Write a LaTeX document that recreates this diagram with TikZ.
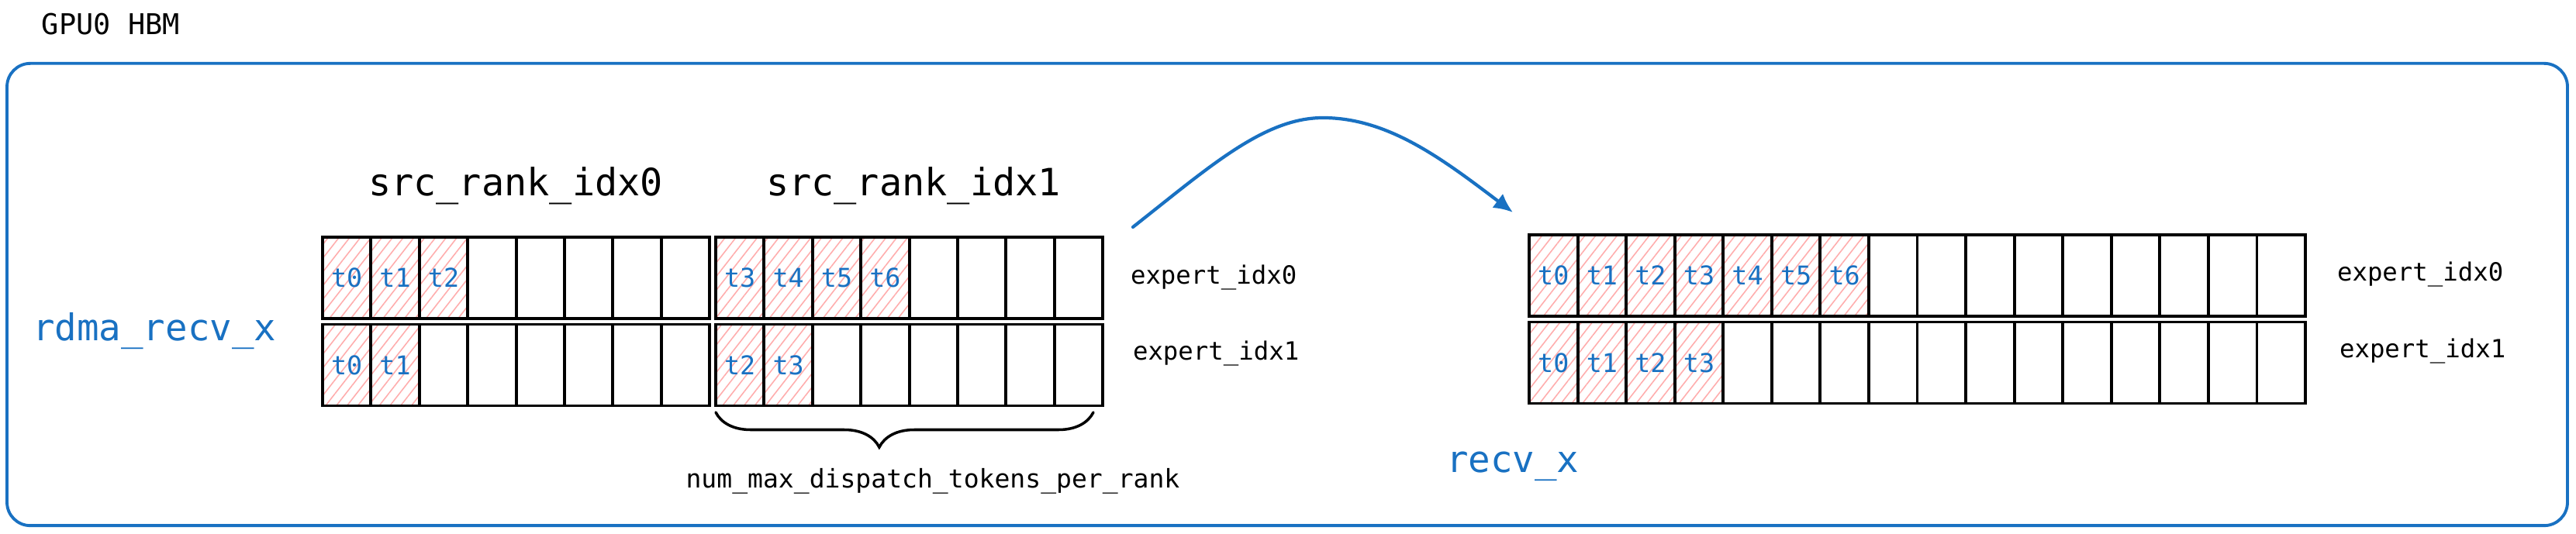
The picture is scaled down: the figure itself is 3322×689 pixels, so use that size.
\documentclass[tikz,border=0pt]{standalone}
\usepackage{fontspec}
\setmonofont{DejaVu Sans Mono}
\usetikzlibrary{patterns.meta,decorations.pathreplacing,arrows.meta}
\definecolor{exblue}{HTML}{1971C2}
\definecolor{hatch}{HTML}{FFADAD}
\begin{document}
\begin{tikzpicture}[x=0.01cm,y=-0.01cm,
  cell/.style={draw=black,line width=1.1pt,minimum width=0.624cm,minimum height=1.05cm,
    inner sep=0pt,outer sep=0pt,text=exblue,font=\ttfamily\fontsize{9.5}{11}\selectfont},
  rcell/.style={cell,minimum width=0.6256cm},
  full/.style={pattern={Lines[angle=52,distance=3.1pt,line width=0.45pt]},pattern color=hatch},
  lbl/.style={inner sep=0pt,outer sep=0pt,text=black},
  small/.style={lbl,font=\ttfamily\fontsize{9.2}{11}\selectfont},
  big/.style={lbl,font=\ttfamily\fontsize{13.8}{16}\selectfont},
  bluebig/.style={lbl,text=exblue,font=\ttfamily\fontsize{13.5}{16}\selectfont},
  conn/.style={draw=exblue,line width=1.2pt,line cap=round,-{Latex[length=7pt,width=6.5pt]}},
  bracestyle/.style={draw=black,line width=1pt,line cap=round,decorate,
    decoration={brace,amplitude=0.45cm,aspect=0.567}}]
\useasboundingbox (0,0) rectangle (3322,689);

% outer frame
\node[draw=exblue,line width=1.1pt,rounded corners=0.3cm,minimum width=33cm,minimum height=5.96cm,inner sep=0pt] (frame) at (1660,380) {};
\node[lbl,anchor=base west,font=\ttfamily\fontsize{10.5}{12}\selectfont] (gpu) at (54,45) {GPU0 HBM};

% group A (src_rank_idx0)
\foreach \t [count=\i from 0] in {t0,t1,t2}
  \node[cell,full] (a1-\i) at ({447.2+62.4*\i},358.5) {\t};
\foreach \i in {3,...,7}
  \node[cell] (a1-\i) at ({447.2+62.4*\i},358.5) {};
\foreach \t [count=\i from 0] in {t0,t1}
  \node[cell,full] (a2-\i) at ({447.2+62.4*\i},471) {\t};
\foreach \i in {2,...,7}
  \node[cell] (a2-\i) at ({447.2+62.4*\i},471) {};

% group B (src_rank_idx1)
\foreach \t [count=\i from 0] in {t3,t4,t5,t6}
  \node[cell,full] (b1-\i) at ({954.2+62.4*\i},358.5) {\t};
\foreach \i in {4,...,7}
  \node[cell] (b1-\i) at ({954.2+62.4*\i},358.5) {};
\foreach \t [count=\i from 0] in {t2,t3}
  \node[cell,full] (b2-\i) at ({954.2+62.4*\i},471) {\t};
\foreach \i in {2,...,7}
  \node[cell] (b2-\i) at ({954.2+62.4*\i},471) {};

% recv_x array
\foreach \t [count=\i from 0] in {t0,t1,t2,t3,t4,t5,t6}
  \node[rcell,full] (r1-\i) at ({2003.3+62.56*\i},355.5) {\t};
\foreach \i in {7,...,15}
  \node[rcell] (r1-\i) at ({2003.3+62.56*\i},355.5) {};
\foreach \t [count=\i from 0] in {t0,t1,t2,t3}
  \node[rcell,full] (r2-\i) at ({2003.3+62.56*\i},468) {\t};
\foreach \i in {4,...,15}
  \node[rcell] (r2-\i) at ({2003.3+62.56*\i},468) {};

% labels
\node[big,anchor=base] (src0) at (665,253) {src\_rank\_idx0};
\node[big,anchor=base] (src1) at (1178,253) {src\_rank\_idx1};
\node[bluebig,anchor=base west] (rdma) at (42,440) {rdma\_recv\_x};
\node[bluebig,anchor=base west] (recv) at (1865,610) {recv\_x};
\node[small,anchor=base west] (e0l) at (1458,367) {expert\_idx0};
\node[small,anchor=base west] (e1l) at (1461,465) {expert\_idx1};
\node[small,anchor=base west] (e0r) at (3014,363) {expert\_idx0};
\node[small,anchor=base west] (e1r) at (3017,462) {expert\_idx1};
\node[small,anchor=base,font=\ttfamily\fontsize{9.4}{11}\selectfont] (nmax) at (1203,630) {num\_max\_dispatch\_tokens\_per\_rank};

% brace
\coordinate (brR) at (1410,532);
\coordinate (brL) at (923,532);
\draw[bracestyle] (brR) -- (brL);

% arrow
\coordinate (arrS) at (1461,293);
\coordinate (arrE) at (1951,274);
\draw[conn] (arrS) .. controls (1560,215) and (1630,152) .. (1706,152)
  .. controls (1790,152) and (1860,205) .. (arrE);
\end{tikzpicture}
\end{document}
